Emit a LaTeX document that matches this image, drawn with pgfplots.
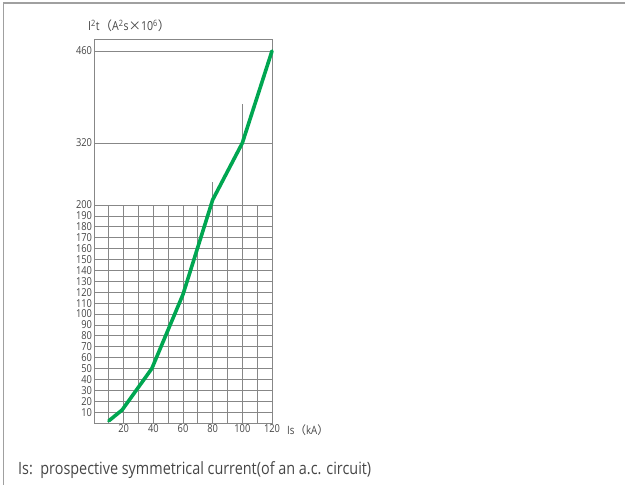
\documentclass[border=0pt]{standalone}
\usepackage{fontspec}
\setmainfont{Open Sans}[FakeStretch=0.85]
\newfontfamily\cjk{Noto Sans CJK SC}
\usepackage{pgfplots}
\pgfplotsset{compat=1.18}
\definecolor{curve}{RGB}{0,166,81}
\definecolor{gridc}{RGB}{135,135,135}
\definecolor{txt}{RGB}{70,70,70}
\definecolor{frame}{RGB}{160,160,160}

\begin{document}
\begin{tikzpicture}
\begin{axis}[
    scale only axis,
    width=178bp, height=384bp,
    xmin=0, xmax=120, ymin=0, ymax=478.3,
    % broken y scale: 0-200 fine, 200-320 and 320-460 compressed
    y coord trafo/.code={\pgfmathparse{1.09*min(#1,200)+0.516667*max(min(#1,320)-200,0)+0.657143*max(#1-320,0)}},
    xtick={20,40,...,120},
    ytick={10,20,30,40,50,60,70,80,90,100,110,120,130,140,150,160,170,180,190,200,320,460},
    yticklabels={10,20,30,40,50,60,70,80,90,100,110,120,130,140,150,160,170,180,190,200,320,460},
    xticklabels={20,40,60,80,100,120},
    /pgf/number format/assume math mode=true,
    major tick length=0pt,
    axis line style={gridc, line width=0.9bp},
    tick label style={font=\fontsize{11}{12}\selectfont, text=txt},
    yticklabel style={xshift=1.5bp},
    xticklabel style={yshift=1.5bp},
    clip=false,
]
\pgfplotsinvokeforeach{10,20,...,110}{
  \draw[gridc, line width=0.8bp] (axis cs:#1,0) -- (axis cs:#1,200);
}
\pgfplotsinvokeforeach{10,20,...,200}{
  \draw[gridc, line width=0.8bp] (axis cs:0,#1) -- (axis cs:120,#1);
}
\draw[gridc, line width=0.8bp] (axis cs:0,320) -- (axis cs:120,320);
\draw[gridc, line width=0.8bp] (axis cs:0,460) -- (axis cs:120,460);
\draw[gridc, line width=0.8bp] (axis cs:80,200) -- (axis cs:80,245);
\draw[gridc, line width=0.8bp] (axis cs:100,200) -- (axis cs:100,379);

\addplot[curve, line width=3.6bp, line join=round, line cap=round] coordinates {
  (10,2) (19,12) (39,50) (60,118) (80,210) (100,320) (120,460)
};
\end{axis}
\node[anchor=base west, inner sep=0, text=txt, font=\fontsize{12.5}{14}\selectfont]
  at (-6bp,392bp) {I\textsuperscript{2}t{\cjk （}A\textsuperscript{2}s{\cjk ×}10\textsuperscript{6}{\cjk ）}};
\node[anchor=west, inner sep=0, text=txt, font=\fontsize{11.5}{13}\selectfont]
  at (193bp,-7bp) {Is{\cjk （}kA{\cjk ）}};
\node[anchor=base west, inner sep=0, text=txt, font=\fontsize{17}{19}\selectfont]
  at (-76bp,-51bp) {Is:\ \ prospective symmetrical current(of an a.c. circuit)};
\draw[frame, line width=1.4bp] (-90.5bp,-62bp) -- (-90.5bp,420bp) -- (531bp,420bp);
\pgfresetboundingbox
\useasboundingbox (-94bp,-62bp) rectangle (531bp,423bp);
\end{tikzpicture}
\end{document}
